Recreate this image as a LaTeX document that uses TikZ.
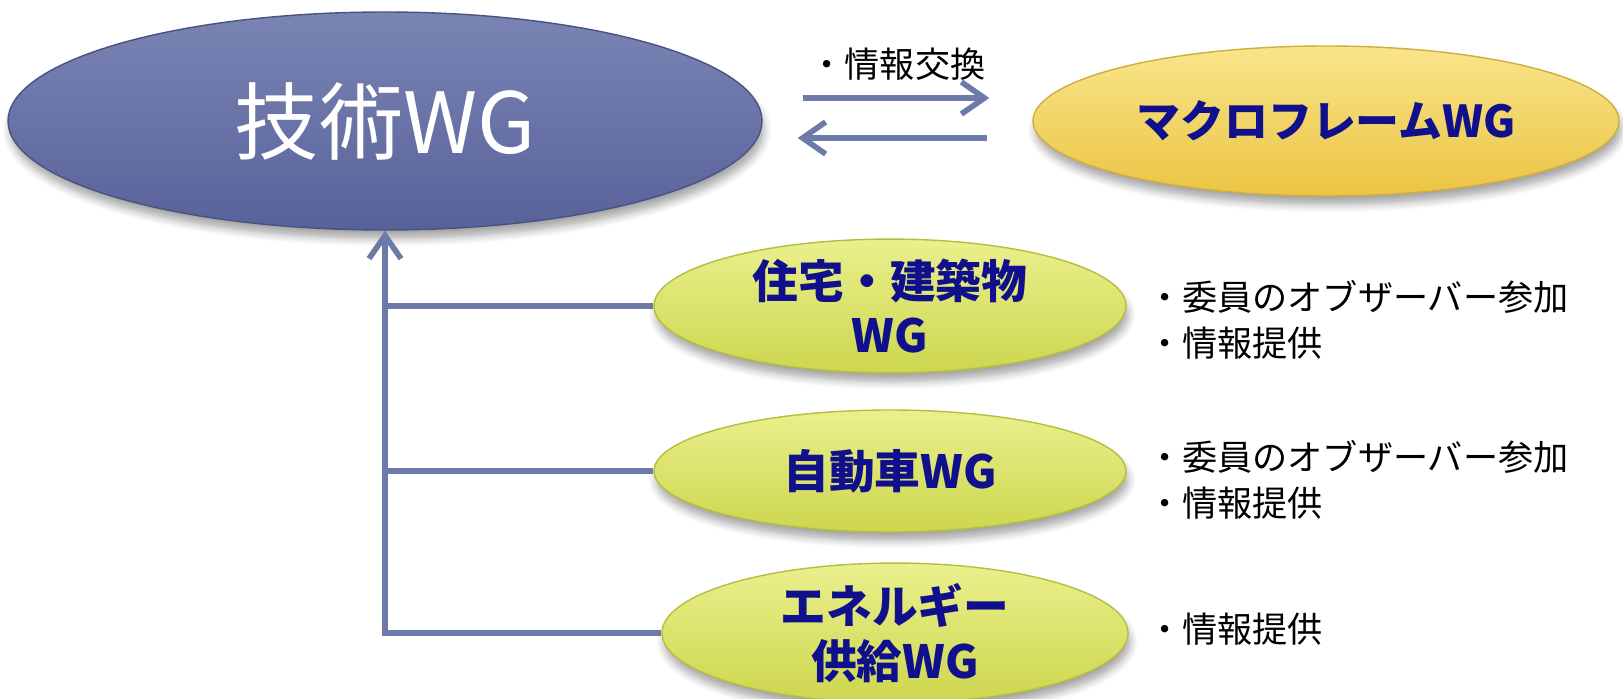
\documentclass[tikz,border=0pt]{standalone}
\usepackage{fontspec}
\setmainfont{Noto Sans CJK JP}
\usetikzlibrary{arrows.meta, positioning, shapes.geometric, shadows.blur}

\definecolor{linkgray}{HTML}{6D79A8}
\definecolor{wgnavy}{HTML}{10108C}
\definecolor{techtop}{HTML}{7A84B4}
\definecolor{techbottom}{HTML}{58629A}
\definecolor{techline}{HTML}{4A5380}
\definecolor{macrotop}{HTML}{F9E58C}
\definecolor{macrobottom}{HTML}{EBC443}
\definecolor{macroline}{HTML}{D0AE3E}
\definecolor{subtop}{HTML}{EAF08C}
\definecolor{subbottom}{HTML}{CDD64E}
\definecolor{subline}{HTML}{B5BE3F}

\begin{document}
\begin{tikzpicture}[>={Straight Barb[length=2.3mm,width=3.2mm]},
  wg/.style={ellipse, inner sep=0pt, blur shadow={shadow xshift=0.6pt, shadow yshift=-2.5pt, shadow blur steps=6, shadow opacity=35}},
  sub/.style={wg, minimum width=4.72cm, minimum height=1.22cm, top color=subtop, bottom color=subbottom, draw=subline, text=wgnavy, align=center, font=\fontsize{13}{15.5}\selectfont\bfseries},
  link/.style={draw=linkgray, line width=1.6pt},
  note/.style={align=left, font=\fontsize{10}{13}\selectfont}]

\useasboundingbox (0,0) rectangle (16.23,6.98);

% working groups
\node[wg, minimum width=7.54cm, minimum height=2.18cm, top color=techtop, bottom color=techbottom, draw=techline, text=white, font=\fontsize{24}{28}\selectfont] (tech) at (3.85,5.77) {技術WG};
\node[wg, minimum width=5.86cm, minimum height=1.50cm, top color=macrotop, bottom color=macrobottom, draw=macroline, text=wgnavy, font=\fontsize{12.5}{15}\selectfont\bfseries] (macro) at (13.26,5.77) {マクロフレームWG};
\node[sub] (house) at (8.90,3.92) {住宅・建築物\\WG};
\node[sub] (car) at (8.90,2.27) {自動車WG};
\node[sub, minimum width=4.66cm, minimum height=1.24cm] (energy) at (8.95,0.65) {エネルギー\\供給WG};

% notes
\node[note] (housenote) [right=0.08cm of house, yshift=-0.14cm] {・委員のオブザーバー参加\\・情報提供};
\node[note] (carnote) [right=0.08cm of car, yshift=-0.09cm] {・委員のオブザーバー参加\\・情報提供};
\node[note] (energynote) [right=0.06cm of energy, yshift=0.04cm] {・情報提供};

% connectors
\draw[link, ->, shorten <=0.40cm, shorten >=0.43cm] ([yshift=0.23cm]tech.east) -- node[above=1pt, note] (swap) {・情報交換} ([yshift=0.23cm]macro.west);
\draw[link, <-, shorten <=0.35cm, shorten >=0.45cm] ([yshift=-0.17cm]tech.east) -- ([yshift=-0.17cm]macro.west);
\draw[link, ->] (energy.west) -| (tech.south);
\draw[link] (house.west) -- (house.west -| tech.south);
\draw[link] (car.west) -- (car.west -| tech.south);

\end{tikzpicture}
\end{document}
